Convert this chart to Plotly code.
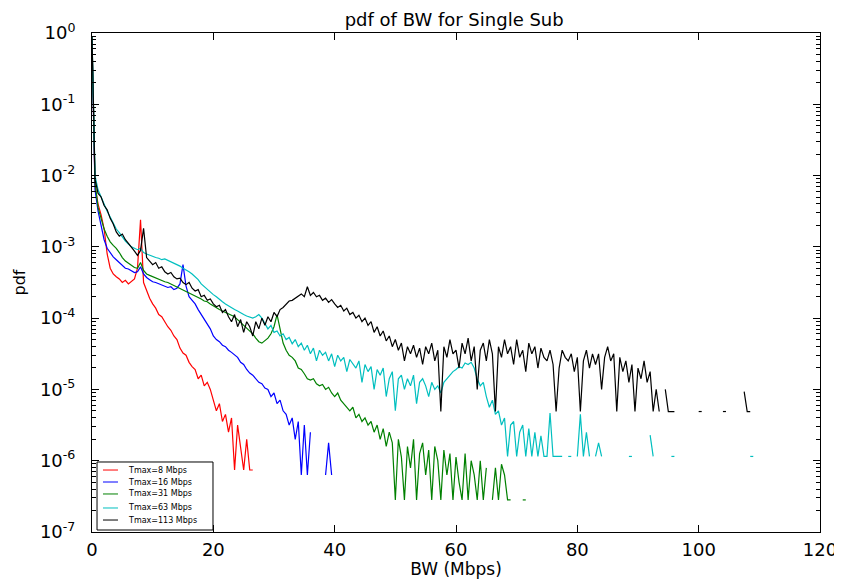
import plotly.graph_objects as go

# bin width of the BW histogram (Mbps)
BIN = 0.5

labels = ["Tmax=8 Mbps", "Tmax=16 Mbps", "Tmax=31 Mbps", "Tmax=63 Mbps", "Tmax=113 Mbps"]
colors = ["#ff0000", "#0000ff", "#008000", "#00bfbf", "#000000"]

# log10(pdf) per 0.5 Mbps bin (None = empty bin)
red_log = [
    -0.1, -2.15, -2.4, -2.55, -2.75, -3.1, -3.3, -3.38, -3.42, -3.45,
    -3.5, -3.47, -3.52, -3.48, -3.45, -3.3, -2.62, -3.5, -3.62, -3.72,
    -3.8, -3.86, -3.95, -3.98, -4.05, -4.12, -4.17, -4.25, -4.3, -4.42,
    -4.49, -4.52, -4.62, -4.68, -4.72, -4.85, -4.8, -4.95, -4.9, -5.0,
    -5.15, -5.3, -5.2, -5.45, -5.35, -5.6, -5.4, -6.13, -5.5, -5.8,
    -6.13, -5.7, -6.13, -6.13,
]
blue_log = [
    -0.1, -2.2, -2.5, -2.72, -2.9, -3.02, -3.08, -3.14, -3.18, -3.22,
    -3.26, -3.3, -3.31, -3.34, -3.36, -3.35, -3.28, -3.38, -3.43, -3.46,
    -3.49, -3.5, -3.52, -3.54, -3.55, -3.57, -3.56, -3.6, -3.58, -3.52,
    -3.25, -3.55, -3.7, -3.75, -3.8, -3.88, -3.95, -4.02, -4.1, -4.15,
    -4.25, -4.3, -4.33, -4.38, -4.4, -4.45, -4.48, -4.52, -4.55, -4.62,
    -4.65, -4.72, -4.77, -4.8, -4.85, -4.9, -4.92, -4.98, -5.0, -5.1,
    -5.05, -5.2, -5.15, -5.3, -5.35, -5.5, -5.4, -5.7, -5.45, -6.2,
    -5.5, -6.2, -5.6, None, None, None, None, -6.2, -5.75, -6.2,
]
green_log = [
    -0.05, -2.1, -2.45, -2.62, -2.75, -2.85, -2.93, -2.98, -3.02, -3.08,
    -3.15, -3.2, -3.23, -3.27, -3.29, -3.3, -3.22, -3.33, -3.38, -3.4,
    -3.42, -3.44, -3.46, -3.47, -3.49, -3.5, -3.52, -3.54, -3.56, -3.58,
    -3.6, -3.63, -3.64, -3.67, -3.68, -3.71, -3.73, -3.76, -3.77, -3.8,
    -3.83, -3.85, -3.88, -3.9, -3.92, -3.94, -3.97, -3.98, -4.02, -4.06,
    -4.1, -4.13, -4.17, -4.22, -4.28, -4.33, -4.35, -4.32, -4.28, -4.22,
    -4.12, -3.95, -4.15, -4.35, -4.45, -4.52, -4.55, -4.6, -4.7, -4.72,
    -4.78, -4.85, -4.87, -4.85, -4.92, -4.95, -4.93, -5.0, -4.97, -5.05,
    -5.1, -5.05, -5.15, -5.2, -5.25, -5.3, -5.25, -5.4, -5.35, -5.45,
    -5.4, -5.5, -5.45, -5.6, -5.5, -5.7, -5.55, -5.8, -5.6, -5.75,
    -6.55, -5.7, -5.95, -6.55, -5.8, -6.1, -5.7, -6.55, -5.9, -5.75,
    -6.2, -5.85, -6.55, -5.8, -6.0, -6.55, -5.85, -6.2, -5.9, -6.55,
    -5.95, -6.3, -6.55, -5.9, -6.55, -6.0, -6.2, -6.55, -6.0, -6.55,
    -6.1, None, -6.55, -6.1, -6.55, -6.05, -6.2, -6.55, -6.55, None,
    -6.55, None, -6.55, -6.55,
]
cyan_log = [
    -0.05, -2.0, -2.2, -2.3, -2.42, -2.5, -2.58, -2.66, -2.75, -2.8,
    -2.86, -2.92, -2.96, -3.0, -3.02, -3.04, -3.02, -3.08, -3.1, -3.12,
    -3.14, -3.15, -3.16, -3.18, -3.17, -3.19, -3.2, -3.22, -3.25, -3.27,
    -3.3, -3.32, -3.35, -3.38, -3.42, -3.46, -3.52, -3.56, -3.6, -3.63,
    -3.67, -3.7, -3.74, -3.77, -3.8, -3.83, -3.86, -3.88, -3.9, -3.93,
    -3.95, -3.97, -3.99, -4.0, -3.98, -3.95, -4.0, -4.08, -4.15, -4.1,
    -4.2, -4.18, -4.25, -4.22, -4.3, -4.27, -4.36, -4.3, -4.4, -4.35,
    -4.45, -4.38, -4.5, -4.42, -4.6, -4.45, -4.52, -4.48, -4.6, -4.5,
    -4.68, -4.52, -4.6, -4.55, -4.75, -4.58, -4.65, -4.7, -4.6, -4.9,
    -4.65, -4.75, -4.68, -5.0, -4.72, -4.8, -4.7, -5.1, -4.85, -4.75,
    -5.3, -4.85, -4.8, -5.0, -4.85, -4.95, -4.8, -5.2, -4.9, -4.85,
    -4.95, -5.1, -4.9, -5.0, -4.95, -5.05, -4.9, -4.85, -4.8, -4.75,
    -4.72, -4.68, -4.7, -4.63, -4.65, -4.62, -4.7, -4.85, -4.95, -4.9,
    -5.1, -5.25, -5.15, -5.35, -5.3, -5.5, -5.4, -5.94, -5.5, -5.45,
    -5.94, -5.6, -5.5, -5.94, -5.55, -5.94, -5.6, -5.94, -5.65, -5.94,
    -5.94, -5.33, -5.94, -5.94, -5.94, -5.94, None, -5.94, -5.94, None,
    -5.94, -5.35, -5.94, -5.6, -5.94, None, -5.94, -5.75, -5.94, None,
    None, None, None, None, None, None, None, -5.94, -5.94, None,
    None, None, None, None, -5.64, -5.94, None, None, None, None,
    None, -5.94, -5.94, None, None, None, None, None, None, None,
    None, None, None, None, None, None, None, None, None, None,
    None, None, None, None, None, None, None, -5.94, -5.94,
]
black_log = [
    -0.05, -2.05, -2.25, -2.3, -2.42, -2.48, -2.6, -2.68, -2.79, -2.85,
    -2.82, -2.9, -2.95, -3.0, -3.06, -3.12, -3.05, -2.74, -3.15, -3.2,
    -3.25, -3.22, -3.3, -3.28, -3.35, -3.38, -3.36, -3.42, -3.45, -3.44,
    -3.5, -3.53, -3.5, -3.58, -3.62, -3.6, -3.7, -3.68, -3.75, -3.73,
    -3.8, -3.84, -3.82, -3.92, -3.88, -3.98, -4.05, -3.95, -4.12, -4.02,
    -4.2, -4.05, -4.12, -4.25, -4.05, -4.15, -4.0, -4.1, -3.98, -4.05,
    -3.92, -3.98, -3.88, -3.85, -3.8, -3.76, -3.75, -3.72, -3.7, -3.66,
    -3.7, -3.56, -3.68, -3.64, -3.7, -3.68, -3.75, -3.72, -3.78, -3.74,
    -3.8, -3.85, -3.82, -3.9, -3.86, -3.95, -3.92, -4.0, -3.96, -4.05,
    -4.0, -4.1, -4.05, -4.2, -4.12, -4.25, -4.18, -4.32, -4.25, -4.4,
    -4.3, -4.45, -4.35, -4.6, -4.4, -4.5, -4.38, -4.55, -4.42, -4.65,
    -4.4, -4.5, -4.35, -4.6, -4.45, -5.31, -4.4, -4.55, -4.3, -4.5,
    -4.45, -4.7, -4.35, -4.5, -4.28, -4.6, -4.4, -5.0, -4.45, -4.35,
    -4.6, -4.3, -4.5, -5.31, -4.4, -4.55, -4.3, -4.5, -4.4, -4.65,
    -4.3, -4.55, -4.45, -4.75, -4.35, -4.5, -4.4, -4.7, -4.42, -4.55,
    -4.6, -4.45, -4.65, -5.31, -4.7, -4.45, -4.55, -4.6, -4.5, -4.75,
    -4.55, -5.31, -4.6, -4.45, -4.7, -4.5, -4.65, -4.5, -5.0, -4.55,
    -4.4, -4.6, -4.5, -5.31, -4.55, -4.75, -4.6, -4.9, -4.65, -5.31,
    -4.7, -4.85, -4.6, -4.9, -4.75, -5.31, -5.0, -5.31, None, -5.0,
    -5.31, -5.31, -5.31, None, None, None, None, None, None, None,
    -5.31, -5.31, None, None, None, None, None, None, -5.31, -5.31,
    None, None, None, None, None, -5.03, -5.31, -5.31,
]

y_ticks = [1e-7, 1e-6, 1e-5, 1e-4, 1e-3, 1e-2, 1e-1, 1]
y_tick_text = ["10<sup>-7</sup>", "10<sup>-6</sup>", "10<sup>-5</sup>", "10<sup>-4</sup>",
               "10<sup>-3</sup>", "10<sup>-2</sup>", "10<sup>-1</sup>", "10<sup>0</sup>"]
x_ticks = [0, 20, 40, 60, 80, 100, 120]

fig = go.Figure()
for name, color, logs in zip(labels, colors, [red_log, blue_log, green_log, cyan_log, black_log]):
    fig.add_trace(go.Scatter(
        x=[i * BIN for i in range(len(logs))],
        y=[None if v is None else 10 ** v for v in logs],
        mode="lines",
        name=name,
        line=dict(color=color, width=1.2),
        connectgaps=False,
        showlegend=False,
    ))

# small matplotlib-like legend box, lower left (plotly's own legend rows are too tall)
fig.add_shape(type="rect", xref="paper", yref="paper", x0=0.0069, x1=0.1662, y0=0.004, y1=0.1403,
              line=dict(color="black", width=1), fillcolor="white", layer="above")
row_y = [0.1242, 0.1002, 0.0762, 0.0481, 0.0240]
for name, color, ry in zip(labels, colors, row_y):
    fig.add_shape(type="line", xref="paper", yref="paper", x0=0.0151, x1=0.0357, y0=ry, y1=ry,
                  line=dict(color=color, width=1), layer="above")
    fig.add_annotation(xref="paper", yref="paper", x=0.0467, y=ry, text=name, showarrow=False,
                       xanchor="left", yanchor="middle", font=dict(size=8, color="black"))

axis_style = dict(
    showline=True, linecolor="black", linewidth=1, mirror="ticks",
    ticks="inside", ticklen=7, tickcolor="black", showgrid=False, zeroline=False,
    tickfont=dict(size=18, color="black"), automargin=False,
)

# the page body adds an 8px offset, so the figure is 8px smaller than the window
fig.update_layout(
    width=834, height=571,
    margin=dict(l=84, r=22, t=25, b=47),
    paper_bgcolor="white", plot_bgcolor="white",
    font=dict(family="DejaVu Sans", color="black"),
    title=dict(text="pdf of BW for Single Sub", x=0.535, xanchor="center",
               y=0.98, yanchor="middle", font=dict(size=18)),
    xaxis=dict(range=[0, 120], tickvals=x_ticks, ticklabelstandoff=1,
               title=dict(text="BW (Mbps)", font=dict(size=17), standoff=3), **axis_style),
    yaxis=dict(type="log", range=[-7, 0], tickvals=y_ticks, ticktext=y_tick_text,
               ticklabelstandoff=12,
               title=dict(text="pdf", font=dict(size=16), standoff=10),
               minor=dict(ticks="inside", ticklen=4, tickcolor="black", dtick="D1"),
               **axis_style),
    showlegend=False,
)

fig.write_html("out.html")
